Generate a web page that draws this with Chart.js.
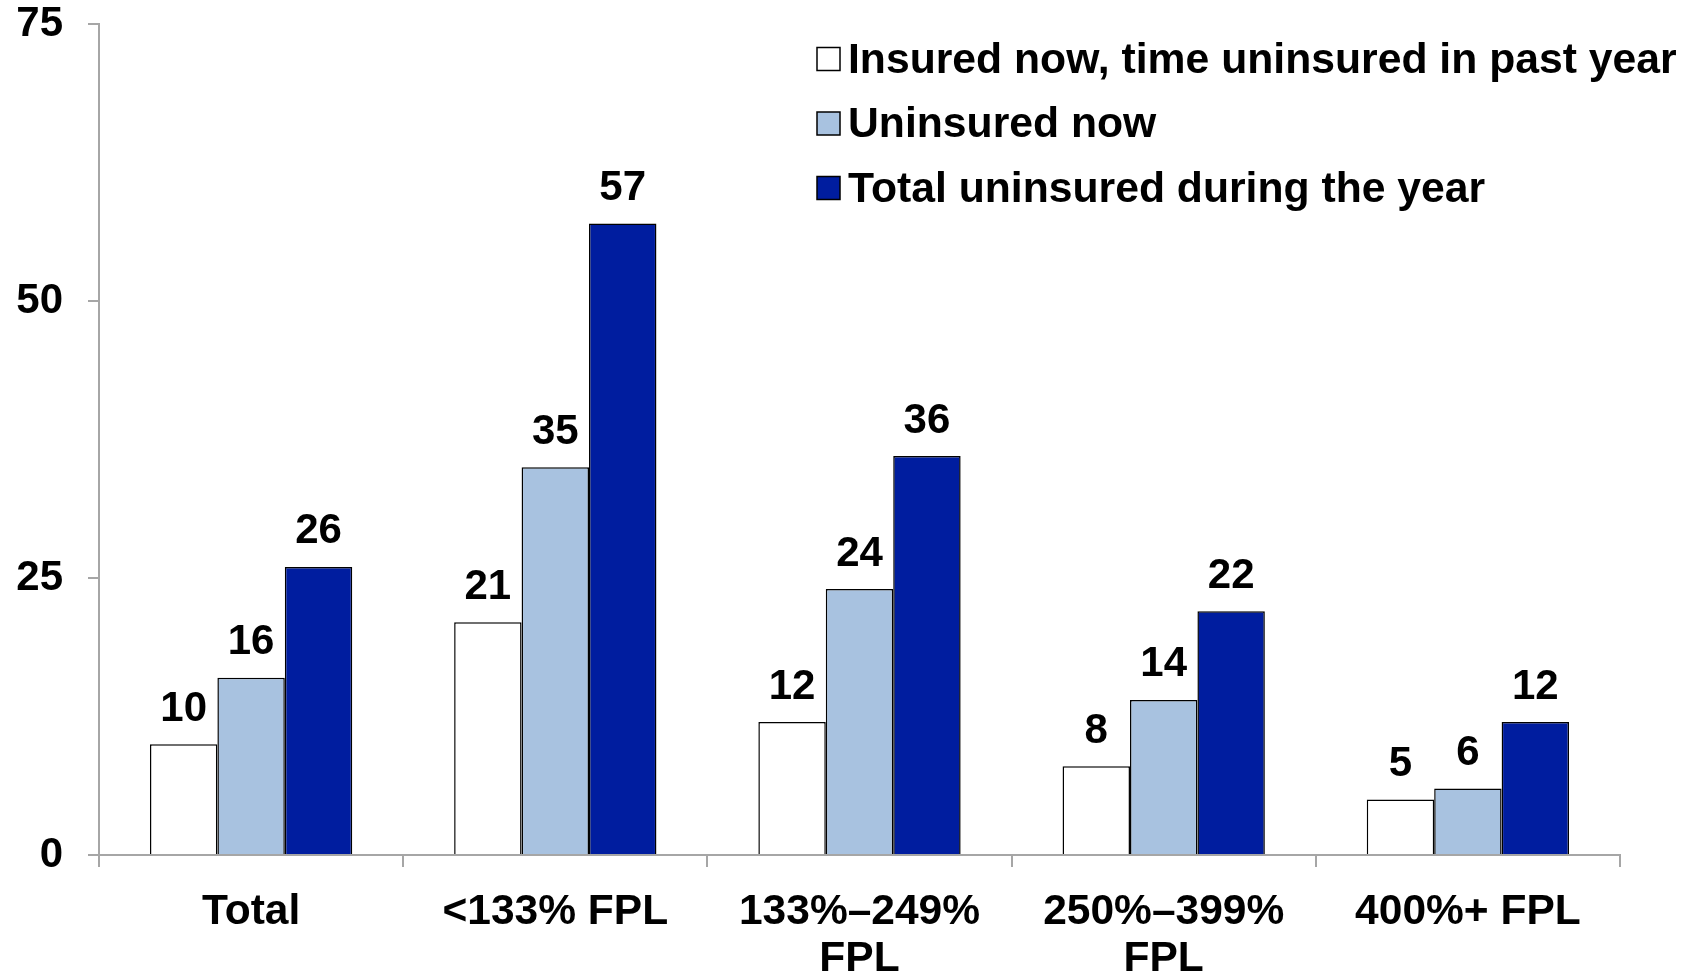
<!DOCTYPE html>
<html><head><meta charset="utf-8">
<script src="https://cdn.jsdelivr.net/npm/chart.js@4.4.1/dist/chart.umd.min.js"></script>
<style>html,body{margin:0;padding:0;background:#fff;}#wrap{width:1694px;height:976px;}</style>
</head><body><div id="wrap"><canvas id="c" width="1694" height="976"></canvas></div>
<script>
const categories = ["Total", "<133% FPL", ["133%\u2013249%", "FPL"], ["250%\u2013399%", "FPL"], "400%+ FPL"];
const seriesNames = ["Insured now, time uninsured in past year", "Uninsured now", "Total uninsured during the year"];
const insuredNowPastUninsured = [10, 21, 12, 8, 5];
const uninsuredNow = [16, 35, 24, 14, 6];
const totalUninsuredYear = [26, 57, 36, 22, 12];
const yTicks = [0, 25, 50, 75];

const FONT = '"Liberation Sans", Arial, sans-serif';
const colors = ["#ffffff", "#a8c2e0", "#001d9f"];

const valueLabels = {
  id: 'valueLabels',
  afterDatasetsDraw(chart) {
    const ctx = chart.ctx;
    ctx.save();
    ctx.font = 'bold 42px ' + FONT;
    ctx.fillStyle = '#000';
    ctx.textAlign = 'center';
    ctx.textBaseline = 'middle';
    chart.data.datasets.forEach((ds, i) => {
      chart.getDatasetMeta(i).data.forEach((bar, j) => {
        ctx.fillText(String(ds.data[j]), bar.x, bar.y - 35);
      });
    });
    ctx.restore();
  }
};

const customLegend = {
  id: 'customLegend',
  afterDraw(chart) {
    const ctx = chart.ctx;
    ctx.save();
    ctx.font = 'bold 42.7px ' + FONT;
    ctx.textAlign = 'left';
    ctx.textBaseline = 'middle';
    const x0 = 817, y0 = 59, step = 64.5, box = 23;
    chart.data.datasets.forEach((ds, i) => {
      const y = y0 + i * step;
      ctx.fillStyle = ds.backgroundColor;
      ctx.fillRect(x0, y - box / 2, box, box);
      ctx.lineWidth = 1.5;
      ctx.strokeStyle = '#000';
      ctx.strokeRect(x0, y - box / 2, box, box);
      ctx.fillStyle = '#000';
      ctx.fillText(ds.label, x0 + 31, y + 2);
    });
    ctx.restore();
  }
};

new Chart(document.getElementById('c'), {
  type: 'bar',
  data: {
    labels: categories,
    datasets: [
      { label: seriesNames[0], data: insuredNowPastUninsured, backgroundColor: colors[0] },
      { label: seriesNames[1], data: uninsuredNow, backgroundColor: colors[1] },
      { label: seriesNames[2], data: totalUninsuredYear, backgroundColor: colors[2] }
    ].map(d => Object.assign(d, { borderColor: '#000', borderWidth: 1.5, categoryPercentage: 0.665, barPercentage: 1 }))
  },
  options: {
    responsive: false,
    animation: false,
    devicePixelRatio: 1,
    layout: { padding: { top: 24, right: 74, left: 0, bottom: 0 } },
    plugins: { legend: { display: false }, tooltip: { enabled: false } },
    scales: {
      x: {
        grid: { display: true, drawOnChartArea: false, drawTicks: true, tickLength: 12, color: '#a6a6a6', lineWidth: 2, offset: true },
        border: { display: true, color: '#a6a6a6', width: 2 },
        ticks: { color: '#000', font: { family: FONT, size: 42.5, weight: 'bold', lineHeight: 1.1 }, padding: 22, maxRotation: 0, autoSkip: false },
        afterFit(s) { s.height = 121; s.paddingLeft = 0; s.paddingRight = 0; }
      },
      y: {
        min: 0, max: 75,
        afterBuildTicks(s) { s.ticks = yTicks.map(v => ({ value: v })); },
        grid: { display: true, drawOnChartArea: false, drawTicks: true, tickLength: 11, color: '#a6a6a6', lineWidth: 2 },
        border: { display: true, color: '#a6a6a6', width: 2 },
        ticks: { color: '#000', font: { family: FONT, size: 42, weight: 'bold' }, padding: 25 },
        afterFit(s) { s.width = 99; s.paddingTop = 0; s.paddingBottom = 0; }
      }
    }
  },
  plugins: [valueLabels, customLegend]
});
</script>
</body></html>
